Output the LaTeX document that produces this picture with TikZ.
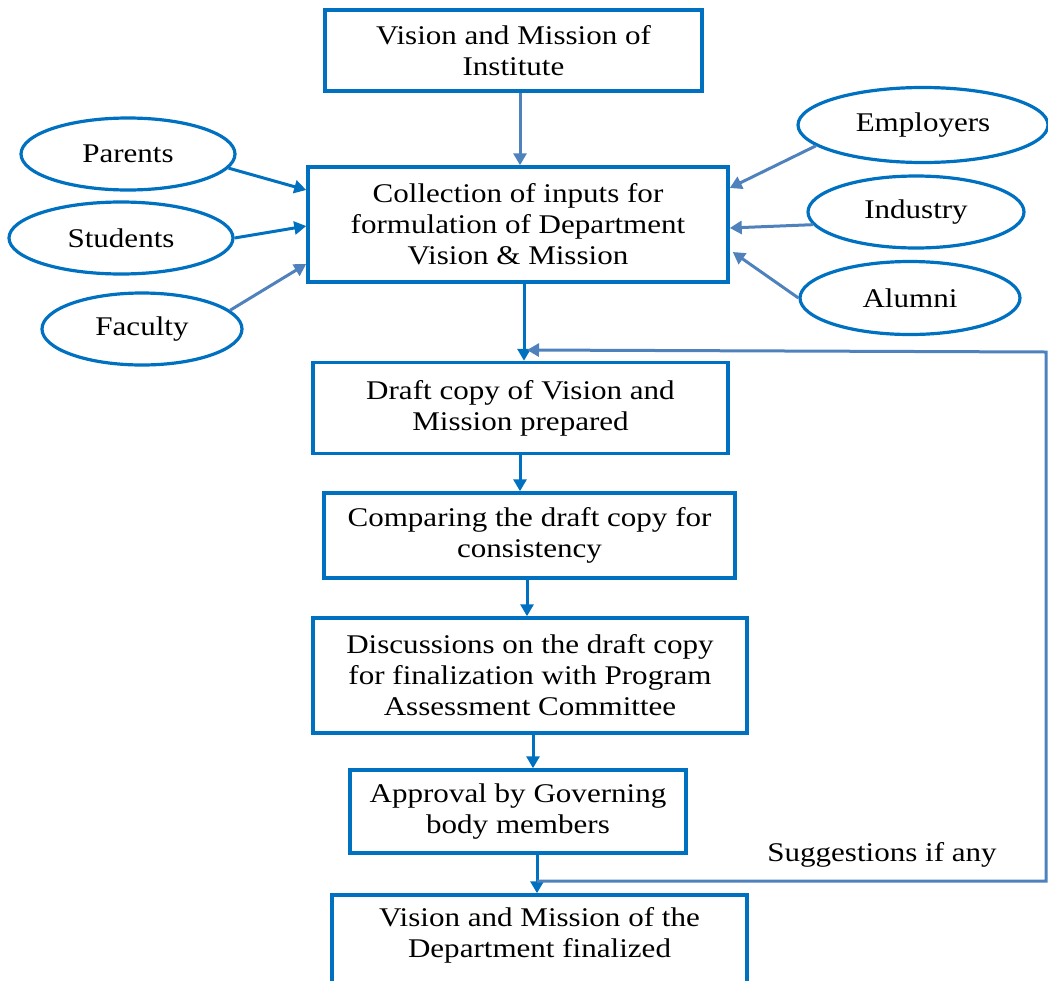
\documentclass[tikz,border=0pt]{standalone}
\usepackage{fontspec}
\setmainfont{Liberation Serif}[FakeStretch=1.15]
\usetikzlibrary{arrows.meta,shapes.geometric}
\definecolor{boxblue}{HTML}{0070C0}
\definecolor{linkblue}{HTML}{4F81BD}

\begin{document}
\begin{tikzpicture}[x=1pt,y=-1pt,
  every node/.style={font=\fontsize{27}{31}\selectfont, text=black},
  stepbox/.style={draw=boxblue, line width=3.5pt, align=center, inner sep=0pt},
  textonly/.style={align=center, inner sep=0pt},
  source/.style={draw=boxblue, line width=3.2pt, ellipse, inner sep=0pt},
  flow/.style={draw=boxblue, line width=3pt, -{Triangle[length=12pt,width=13pt]}},
  link/.style={draw=linkblue, line width=3pt, -{Triangle[length=12pt,width=13pt]}}]

\useasboundingbox (0,0) rectangle (1048,980);
\clip (0,0) rectangle (1048,980);

% main chain of steps
\node[stepbox, minimum width=377pt, minimum height=81pt] (inst) at (513.5,50.5)
  {Vision and Mission of\\Institute};
\node[stepbox, minimum width=420pt, minimum height=115pt] (collect) at (518,224.5)
  {Collection of inputs for\\formulation of Department\\Vision \& Mission};
\node[stepbox, minimum width=415pt, minimum height=91pt] (draft) at (520.5,408)
  {Draft copy of Vision and\\Mission prepared};
\node[stepbox, minimum width=411pt, minimum height=85pt] (compare) at (529.5,535.5)
  {Comparing the draft copy for\\consistency};
\node[stepbox, minimum width=434pt, minimum height=115pt] (discuss) at (530,675.5)
  {Discussions on the draft copy\\for finalization with Program\\Assessment Committee};
\node[stepbox, minimum width=336pt, minimum height=83pt] (approve) at (518,811.5)
  {Approval by Governing\\body members};
% last step: the frame runs past the lower edge
\node[stepbox, minimum width=415pt, minimum height=100pt] (finalbox) at (539.5,945) {};
\node[textonly] (final) at (539.5,935.5)
  {Vision and Mission of the\\Department finalized};

% stakeholders
\node[source, minimum width=214pt, minimum height=72pt] (parents) at (128,154) {Parents};
\node[source, minimum width=224pt, minimum height=72pt] (students) at (121,238) {Students};
\node[source, minimum width=200pt, minimum height=72pt] (faculty) at (142,329) {Faculty};
\node[source, minimum width=250pt, minimum height=75pt] (employers) at (923,125) {Employers};
\node[source, minimum width=216pt, minimum height=72pt] (industry) at (916,212) {Industry};
\node[source, minimum width=220pt, minimum height=73pt] (alumni) at (910,298) {Alumni};

\node (sugg) at (882,855) {Suggestions if any};

% inputs into the collection step
\draw[flow] (parents.-8) -- ([yshift=34.5pt]collect.west);
\draw[flow] (students.east) -- ([yshift=-1.5pt]collect.west);
\draw[link] (faculty.12) -- ([yshift=-39.5pt]collect.west);
\draw[link] (employers.191) -- ([yshift=36.5pt]collect.east);
\draw[link] (industry.187) -- ([yshift=-3.5pt]collect.east);
\draw[link] (alumni.west) -- ([xshift=3pt,yshift=-27.5pt]collect.east);

% flow between steps
\draw[link] ([xshift=6.5pt]inst.south) -- ([xshift=2pt]collect.north);
\draw[flow] ([xshift=6pt]collect.south) -- ([xshift=3.5pt]draft.north);
\draw[flow] ([xshift=-0.5pt]draft.south) -- ([xshift=-9.5pt]compare.north);
\draw[flow] ([xshift=-2.5pt]compare.south) -- ([xshift=-3pt]discuss.north);
\draw[flow] ([xshift=3pt]discuss.south) -- ([xshift=15pt]approve.north);
\draw[flow] ([xshift=19pt]approve.south) -- ([xshift=-2.5pt]finalbox.north);

% feedback loop for suggestions
\coordinate (fbjoin) at (537,881);
\coordinate (fbend) at (527,350);
\draw[link] (fbjoin) -- (1046,881) -- (1046,352) -- (fbend);
\end{tikzpicture}
\end{document}
